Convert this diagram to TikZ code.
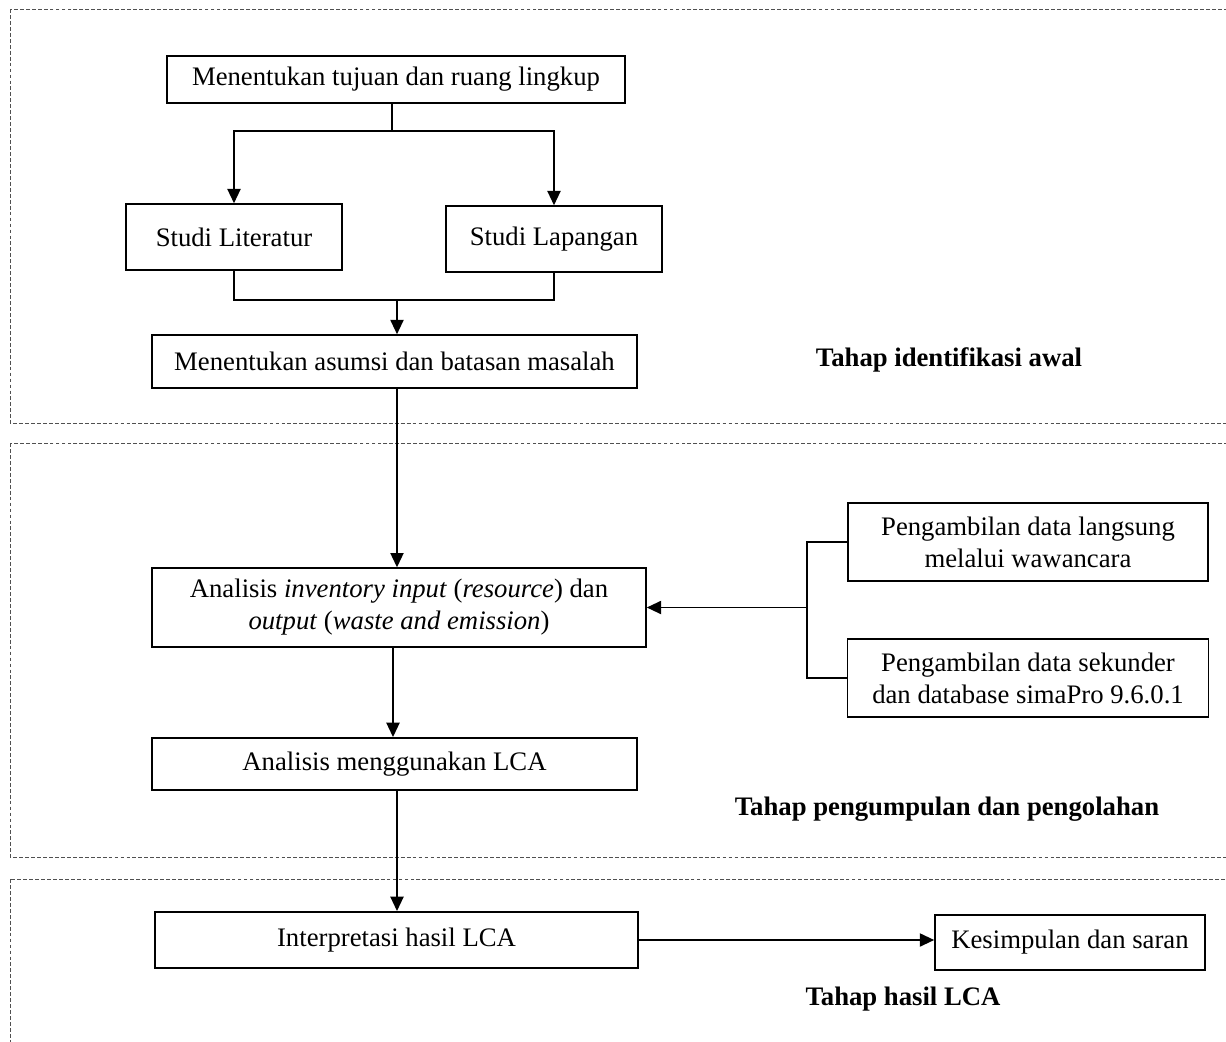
\documentclass[tikz,border=0pt]{standalone}
\usepackage{fontspec}
\setmainfont{Liberation Serif}
\usetikzlibrary{arrows.meta}
\definecolor{framegray}{RGB}{80,80,80}

\begin{document}
\begin{tikzpicture}[
    x=0.01474cm, y=-0.01474cm,
    >={Triangle[length=6pt, width=5.5pt]},
    box/.style={draw, line width=0.7pt, align=center, inner sep=2pt, font=\fontsize{11.2}{13.4}\selectfont},
    frame/.style={draw=framegray, dash pattern=on 1.6pt off 0.9pt, line width=0.4pt},
    stage/.style={font=\fontsize{11.2}{13.4}\bfseries\selectfont}
]

% Canvas
\useasboundingbox (0,0) rectangle (1226,1042);
\clip (0,0) rectangle (1226,1042);

% Stage frames (open to the right and bottom)
\draw[frame] (10,9) rectangle (1260,423);
\draw[frame] (10,443) rectangle (1260,857);
\draw[frame] (10,879) rectangle (1260,1080);

% Stage 1: identification
\node[box, minimum width=6.75cm, minimum height=0.69cm] (tujuan) at (396,79.5) {Menentukan tujuan dan ruang lingkup};
\node[box, minimum width=3.18cm, minimum height=0.97cm] (literatur) at (234,237) {Studi Literatur};
\node[box, minimum width=3.18cm, minimum height=0.97cm] (lapangan) at (554,239) {Studi Lapangan};
\node[box, minimum width=7.15cm, minimum height=0.78cm] (asumsi) at (394.5,361.5) {Menentukan asumsi dan batasan masalah};
\node[stage] (stageA) at (949,360) {Tahap identifikasi awal};

\coordinate (split) at (392,131);
\coordinate (merge) at (397,300);
\draw[line width=0.7pt] (tujuan.south -| split) -- (split);
\draw[line width=0.7pt, ->] (split) -| (literatur.north);
\draw[line width=0.7pt, ->] (split) -| (lapangan.north);
\draw[line width=0.7pt] (literatur.south) |- (merge);
\draw[line width=0.7pt] (lapangan.south) |- (merge);
\draw[line width=0.7pt, ->] (merge) -- (merge |- asumsi.north);

% Stage 2: collection and processing
\node[box, minimum width=7.28cm, minimum height=1.16cm] (inventory) at (399,607.5) {Analisis \textit{inventory input} (\textit{resource}) dan\\\textit{output} (\textit{waste and emission})};
\node[box, minimum width=5.31cm, minimum height=1.15cm] (langsung) at (1028,542) {Pengambilan data langsung\\melalui wawancara};
\node[box, minimum width=5.32cm, minimum height=1.15cm] (sekunder) at (1028,678) {Pengambilan data sekunder\\dan database simaPro 9.6.0.1};
\node[box, minimum width=7.15cm, minimum height=0.77cm] (lca) at (394.5,764) {Analisis menggunakan LCA};
\node[stage] (stageB) at (947,809) {Tahap pengumpulan dan pengolahan};

\coordinate (brk) at (807,607.5);
\draw[line width=0.7pt, ->] (asumsi.south -| merge) -- (inventory.north -| merge);
\draw[line width=0.7pt] (langsung.west) -| (brk) |- (sekunder.west);
\draw[line width=0.7pt, ->] (brk) -- (inventory.east);
\draw[line width=0.7pt, ->] (inventory.south -| 393,0) -- (lca.north -| 393,0);

% Stage 3: results
\node[box, minimum width=7.12cm, minimum height=0.83cm] (interpretasi) at (396.5,940) {Interpretasi hasil LCA};
\node[box, minimum width=3.98cm, minimum height=0.81cm] (simpulan) at (1070,942.5) {Kesimpulan dan saran};
\node[stage] (stageC) at (903,999) {Tahap hasil LCA};

\draw[line width=0.7pt, ->] (lca.south -| merge) -- (interpretasi.north -| merge);
\draw[line width=0.7pt, ->] (interpretasi.east) -- (simpulan.west |- interpretasi.east);

\end{tikzpicture}
\end{document}
